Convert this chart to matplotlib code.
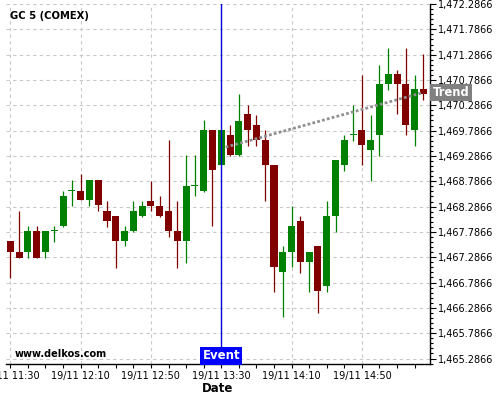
import matplotlib
matplotlib.use("Agg")
import matplotlib.pyplot as plt
import matplotlib.transforms as mtransforms
import numpy as np
import pandas as pd
from matplotlib.ticker import FixedLocator, FuncFormatter

# 5 minute candles, 19/11 from 11:30
times = pd.date_range("2014-11-19 11:30", periods=48, freq="5min")
opens = [1467.60, 1467.38, 1467.39, 1467.80, 1467.39, 1467.80, 1467.90, 1468.60,
         1468.60, 1468.41, 1468.82, 1468.20, 1468.10, 1467.61, 1467.80, 1468.10,
         1468.40, 1468.30, 1468.20, 1467.80, 1467.61, 1468.70, 1468.60, 1469.79,
         1469.11, 1469.69, 1469.31, 1470.11, 1469.89, 1469.60, 1469.10, 1467.00,
         1467.39, 1468.00, 1467.20, 1467.50, 1466.71, 1468.10, 1469.10, 1469.70,
         1469.79, 1469.40, 1469.69, 1470.71, 1470.90, 1470.70, 1469.80, 1470.60]
highs = [1467.60, 1468.20, 1467.90, 1467.90, 1467.80, 1467.90, 1468.60, 1468.82,
         1468.92, 1468.82, 1468.82, 1468.40, 1468.10, 1467.90, 1468.40, 1468.40,
         1468.80, 1468.50, 1469.60, 1468.40, 1469.30, 1469.30, 1469.99, 1469.79,
         1469.79, 1469.89, 1470.50, 1470.30, 1470.10, 1469.79, 1469.10, 1467.50,
         1468.29, 1468.10, 1467.39, 1467.50, 1468.39, 1469.21, 1469.69, 1470.30,
         1470.89, 1470.10, 1471.09, 1471.41, 1470.99, 1471.41, 1470.89, 1471.29]
lows = [1466.87, 1467.28, 1467.27, 1467.28, 1467.27, 1467.59, 1467.88, 1468.30,
        1468.41, 1468.30, 1468.19, 1467.89, 1467.08, 1467.50, 1467.79, 1468.09,
        1468.20, 1468.09, 1467.69, 1467.08, 1467.18, 1468.49, 1468.58, 1467.90,
        1469.11, 1469.29, 1469.29, 1469.49, 1469.49, 1468.39, 1466.59, 1466.10,
        1467.09, 1466.98, 1466.59, 1466.19, 1466.59, 1467.79, 1468.99, 1469.58,
        1469.10, 1468.80, 1469.29, 1470.59, 1470.11, 1469.69, 1469.49, 1470.40]
closes = [1467.39, 1467.28, 1467.80, 1467.28, 1467.80, 1467.82, 1468.50, 1468.62,
          1468.41, 1468.82, 1468.31, 1468.01, 1467.61, 1467.80, 1468.20, 1468.30,
          1468.30, 1468.10, 1467.80, 1467.61, 1468.70, 1468.72, 1469.79, 1469.01,
          1469.79, 1469.31, 1469.98, 1469.79, 1469.60, 1469.11, 1467.10, 1467.39,
          1467.90, 1467.20, 1467.39, 1466.61, 1468.10, 1469.21, 1469.60, 1469.71,
          1469.50, 1469.60, 1470.70, 1470.90, 1470.70, 1469.90, 1470.60, 1470.50]

event_idx = 24  # 19/11 13:30
trend_x = [24.5, 47]
trend_y = [1469.46, 1470.54]

UP = "#008000"
DOWN = "#800000"

o = np.array(opens)
h = np.array(highs)
l = np.array(lows)
c = np.array(closes)
x = np.arange(len(times))
colors = [UP if cc >= oo else DOWN for oo, cc in zip(o, c)]

fig = plt.figure(figsize=(5, 4), dpi=100)
ax = fig.add_axes([0.012, 0.09, 0.848, 0.90])

ax.grid(True, color="#c8c8c8", linestyle=(0, (3, 3)), linewidth=0.8)
ax.set_axisbelow(True)

ax.vlines(x, l, h, colors=colors, linewidth=0.9, zorder=2)
body = np.maximum(np.abs(c - o), 0.02)
ax.bar(x, body, bottom=np.minimum(o, c), width=0.8, color=colors, zorder=3)

ax.plot(trend_x, trend_y, color="#909090", linestyle=(0, (1, 0.8)), linewidth=2, zorder=4)
ax.axvline(event_idx, color="#0000dd", linewidth=1, zorder=5)

ax.set_xlim(-0.49, 47.75)
ax.set_ylim(1465.178, 1472.2866)

# y axis on the right
ax.yaxis.tick_right()
yt = np.round(1465.2866 + 0.5 * np.arange(15), 4)
ax.yaxis.set_major_locator(FixedLocator(yt))
ax.yaxis.set_minor_locator(FixedLocator(np.round(1465.1866 + 0.1 * np.arange(72), 4)))
ax.yaxis.set_major_formatter(FuncFormatter(lambda v, p: f"{v:,.4f}"))
ax.tick_params(axis="y", which="major", length=4, width=0.8, pad=1.5, labelsize=7)
ax.tick_params(axis="y", which="minor", length=2.5, width=0.8)

ax.xaxis.set_major_locator(FixedLocator(x[::8]))
ax.xaxis.set_minor_locator(FixedLocator(x[::2]))
ax.xaxis.set_major_formatter(FuncFormatter(
    lambda v, p: times[int(round(v))].strftime("%d/%m %H:%M") if 0 <= round(v) < len(times) else ""))
ax.tick_params(axis="x", which="both", length=3, width=0.8, pad=2, labelsize=7)

for s in ["left", "top"]:
    ax.spines[s].set_visible(False)
for s in ["bottom", "right"]:
    ax.spines[s].set_linewidth(1)
    ax.spines[s].set_color("black")

ax.set_xlabel("Date", fontsize=8.5, fontweight="bold", labelpad=1)

ax.text(0.0094, 0.967, "GC 5 (COMEX)", transform=ax.transAxes, fontsize=7.2,
        fontweight="bold", ha="left", va="center")
ax.text(0.021, 0.028, "www.delkos.com", transform=ax.transAxes, fontsize=7,
        fontweight="bold", ha="left", va="center")

bx = mtransforms.blended_transform_factory(ax.transData, ax.transAxes)
ax.text(event_idx, 0.023, "Event", transform=bx, fontsize=8.5, fontweight="bold",
        color="white", ha="center", va="center", zorder=6,
        bbox=dict(boxstyle="square,pad=0.2", fc="#0000ff", ec="none"))

by = mtransforms.blended_transform_factory(ax.transAxes, ax.transData)
ax.annotate("Trend", xy=(1.0, trend_y[-1]), xycoords=by, xytext=(2, 0),
            textcoords="offset points", fontsize=8.3, fontweight="bold",
            color="white", ha="left", va="center", annotation_clip=False, zorder=6,
            bbox=dict(boxstyle="square,pad=0.2", fc="#808080", ec="none"))

fig.savefig("out.png", dpi=100)
